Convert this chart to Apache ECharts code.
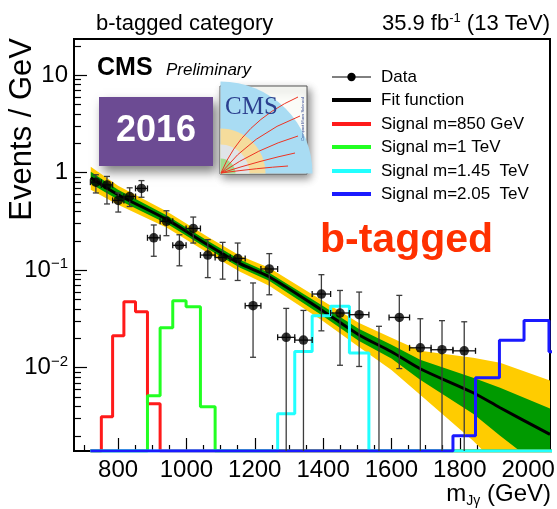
<!DOCTYPE html>
<html>
<head>
<meta charset="utf-8">
<script src="https://cdn.jsdelivr.net/npm/echarts@6/dist/echarts.min.js"></script>
<style>
  html, body { margin: 0; padding: 0; background: #fff; }
  #chart { width: 557px; height: 509px; }
</style>
</head>
<body>
<div id="chart"></div>
<script>
// ---- binning (GeV), shared by the data and the signal templates ----
const binEdges = [719, 751, 784, 817, 851, 886, 923, 960, 999, 1041, 1084, 1128, 1172, 1218,
  1267, 1317, 1368, 1422, 1477, 1534, 1593, 1653, 1716, 1780, 1846, 1916, 1988, 2061, 2136];

// ---- observed data, events / GeV (0 = empty bin) ----
const dataValues = [0.80, 0.75, 0.52, 0.57, 0.69, 0.215, 0.317, 0.18, 0.268, 0.143, 0.135, 0.132,
  0.0433, 0.103, 0.0205, 0.0192, 0.057, 0.0364, 0.035, 0, 0.0328, 0.016, 0.0153, 0.0149];
// lower / upper ends of the Poisson error bars (0 = reaches the bottom of the frame)
const dataLow = [0.62, 0.478, 0.395, 0.45, 0.56, 0.139, 0.226, 0.111, 0.19, 0.084, 0.081, 0.0785,
  0.0128, 0.056, 0, 0, 0.0239, 0.0106, 0.0103, 0, 0.0098, 0, 0, 0];
const dataHigh = [0.953, 0.916, 0.62, 0.70, 0.83, 0.291, 0.407, 0.231, 0.351, 0.206, 0.193, 0.19,
  0.074, 0.148, 0.0406, 0.0387, 0.090, 0.062, 0.0597, 0.0266, 0.0552, 0.0318, 0.0304, 0.0296];

// ---- background fit with 1 and 2 sigma uncertainty bands ----
const fitMass  = [720, 800, 943, 1062, 1157, 1242, 1394, 1504, 1600, 1684, 1839, 1918, 2064];
const fitValue = [0.889, 0.595, 0.330, 0.1826, 0.1167, 0.0858, 0.0394, 0.0218, 0.0146, 0.00977, 0.00554, 0.00389, 0.00207];
const fit1SigUp = [1.024, 0.670, 0.363, 0.2007, 0.1283, 0.0943, 0.0443, 0.0251, 0.0172, 0.01208, 0.00789, 0.00624, 0.00382];
const fit1SigDn = [0.772, 0.529, 0.300, 0.1661, 0.1062, 0.0781, 0.0350, 0.0189, 0.0124, 0.00754, 0.00337, 0.00201, 0.000805];
const fit2SigUp = [1.152, 0.736, 0.399, 0.2205, 0.1410, 0.1061, 0.0499, 0.0289, 0.0203, 0.01494, 0.01266, 0.01125, 0.00741];
const fit2SigDn = [0.670, 0.470, 0.273, 0.1512, 0.0966, 0.0694, 0.0311, 0.0164, 0.0095, 0.00529, 0.00178, 0.000944, 0.000312];

// ---- signal templates, one value per bin (0 = empty) ----
const signal850 = [0, 0.00314, 0.0213, 0.0475, 0.0375, 0.00428, 0, 0, 0, 0, 0, 0, 0, 0,
  0, 0, 0, 0, 0, 0, 0, 0, 0, 0, 0, 0, 0, 0];
const signal1000 = [0, 0, 0, 0, 0, 0.00516, 0.0257, 0.0486, 0.0423, 0.00398, 0, 0, 0, 0,
  0, 0, 0, 0, 0, 0, 0, 0, 0, 0, 0, 0, 0, 0];
const signal1450 = [0, 0, 0, 0, 0, 0, 0, 0, 0, 0, 0, 0, 0, 0,
  0.00337, 0.0147, 0.0341, 0.0426, 0.0142, 0, 0, 0, 0, 0, 0, 0, 0, 0];
const signal2050 = [0, 0, 0, 0, 0, 0, 0, 0, 0, 0, 0, 0, 0, 0,
  0, 0, 0, 0, 0, 0, 0, 0, 0, 0.00201, 0.00789, 0.0191, 0.0305, 0.0146];

// ---- axis ticks ----
const xTickValues = [800, 1000, 1200, 1400, 1600, 1800, 2000];
const xMinorTickValues = [700, 750, 850, 900, 950, 1050, 1100, 1150, 1250, 1300, 1350, 1450, 1500,
  1550, 1650, 1700, 1750, 1850, 1900, 1950, 2050];
const yTickValues = [0.01, 0.1, 1, 10];
const yMinorTickValues = [0.002, 0.003, 0.004, 0.005, 0.006, 0.007, 0.008, 0.009,
  0.02, 0.03, 0.04, 0.05, 0.06, 0.07, 0.08, 0.09,
  0.2, 0.3, 0.4, 0.5, 0.6, 0.7, 0.8, 0.9,
  2, 3, 4, 5, 6, 7, 8, 9, 20];

const X_MIN = 671, X_MAX = 2064;
const Y_MIN = 0.0014, Y_MAX = 23.5;
const FONT = "'Liberation Sans', Arial, Helvetica, sans-serif";

const binCenters = binEdges.slice(0, -1).map((e, i) => (e + binEdges[i + 1]) / 2);

// band polygon: upper edge left to right, lower edge back
function bandSeries(upper, lower, color) {
  return {
    type: 'custom', coordinateSystem: 'cartesian2d', clip: true, silent: true, z: 1,
    data: [[fitMass[0], fitValue[0]]],
    renderItem: function (params, api) {
      const pts = [];
      for (let i = 0; i < fitMass.length; i++) pts.push(api.coord([fitMass[i], upper[i]]));
      for (let i = fitMass.length - 1; i >= 0; i--) pts.push(api.coord([fitMass[i], lower[i]]));
      return { type: 'polygon', shape: { points: pts }, style: { fill: color } };
    }
  };
}

// step histogram outline, empty bins sit on the bottom of the frame
function signalSeries(name, values, color) {
  const pts = values.map((v, i) => [binEdges[i], v > 0 ? v : Y_MIN]);
  pts.push([binEdges[values.length], Y_MIN]);
  return {
    name: name, type: 'line', step: 'end', data: pts, symbol: 'none', silent: true, z: 3,
    lineStyle: { color: color, width: 3 }, itemStyle: { color: color }
  };
}

function renderErrorBar(params, api) {
  const i = api.value(2);
  const xc = binCenters[i];
  const v = dataValues[i], lo = dataLow[i], hi = dataHigh[i];
  const style = { stroke: '#3c3c3c', lineWidth: 1.3 };
  const cap = 3;
  const pHi = api.coord([xc, hi]);
  const pLo = api.coord([xc, lo > 0 ? lo : Y_MIN]);
  const children = [
    { type: 'line', shape: { x1: pHi[0], y1: pHi[1], x2: pLo[0], y2: pLo[1] + (lo > 0 ? 0 : 2) }, style: style },
    { type: 'line', shape: { x1: pHi[0] - cap, y1: pHi[1], x2: pHi[0] + cap, y2: pHi[1] }, style: style }
  ];
  if (lo > 0) {
    children.push({ type: 'line', shape: { x1: pLo[0] - cap, y1: pLo[1], x2: pLo[0] + cap, y2: pLo[1] }, style: style });
  }
  if (v > 0) {
    const pl = api.coord([binEdges[i], v]);
    const pr = api.coord([binEdges[i + 1], v]);
    const hs = { stroke: '#111', lineWidth: 1.3 };
    children.push({ type: 'line', shape: { x1: pl[0], y1: pl[1], x2: pr[0], y2: pr[1] }, style: hs });
    children.push({ type: 'line', shape: { x1: pl[0], y1: pl[1] - cap, x2: pl[0], y2: pl[1] + cap }, style: hs });
    children.push({ type: 'line', shape: { x1: pr[0], y1: pr[1] - cap, x2: pr[0], y2: pr[1] + cap }, style: hs });
  }
  return { type: 'group', children: children };
}

const yLabelFormatter = function (v) {
  const e = Math.round(Math.log10(v));
  if (e >= 0) return '{b|' + Math.pow(10, e) + '}';
  return '{b|10}{s|\u2212' + (-e) + '}';
};

// legend rows drawn as graphics
const legendRows = [
  { text: 'Data', kind: 'data' },
  { text: 'Fit function', color: '#000000' },
  { text: 'Signal m=850 GeV', color: '#ff1a1a' },
  { text: 'Signal m=1 TeV', color: '#22ff22' },
  { text: 'Signal m=1.45  TeV', color: '#22ffff' },
  { text: 'Signal m=2.05  TeV', color: '#1a1aff' }
];
const legendY = [77, 100, 124, 147, 171, 194];
const legendGraphics = [];
legendRows.forEach((row, k) => {
  const y = legendY[k];
  if (row.kind === 'data') {
    legendGraphics.push({ type: 'line', shape: { x1: 332, y1: y, x2: 371, y2: y }, style: { stroke: '#000', lineWidth: 1 } });
    legendGraphics.push({ type: 'circle', shape: { cx: 351.5, cy: y, r: 4.2 }, style: { fill: '#000' } });
  } else {
    legendGraphics.push({ type: 'line', shape: { x1: 332, y1: y, x2: 371, y2: y }, style: { stroke: row.color, lineWidth: 4 } });
  }
  legendGraphics.push({ type: 'text', x: 381, y: y, style: { text: row.text, font: '17px ' + FONT, fill: '#000', verticalAlign: 'middle', align: 'left' } });
});

const option = {
  animation: false,
  backgroundColor: '#ffffff',
  grid: {
    left: 74, right: 7, top: 39, bottom: 58, show: true,
    borderColor: '#000', borderWidth: 2, backgroundColor: 'transparent',
    containLabel: false, outerBoundsMode: 'none'
  },
  xAxis: [
    {
      type: 'value', min: X_MIN, max: X_MAX, position: 'bottom',
      axisLine: { show: true, lineStyle: { color: '#000', width: 2 } },
      axisTick: { show: true, inside: true, length: 13, customValues: xTickValues, lineStyle: { color: '#000', width: 1.2 } },
      axisLabel: { show: true, customValues: xTickValues, margin: 7, fontSize: 24, color: '#000', fontFamily: FONT, formatter: v => String(v) },
      splitLine: { show: false }
    },
    {
      type: 'value', min: X_MIN, max: X_MAX, position: 'bottom', offset: 0,
      axisLine: { show: false },
      axisTick: { show: true, inside: true, length: 6, customValues: xMinorTickValues, lineStyle: { color: '#000', width: 1.2 } },
      axisLabel: { show: false },
      splitLine: { show: false }
    }
  ],
  yAxis: [
    {
      type: 'log', logBase: 10, min: Y_MIN, max: Y_MAX, position: 'left',
      axisLine: { show: true, lineStyle: { color: '#000', width: 2 } },
      axisTick: { show: true, inside: true, length: 13, customValues: yTickValues, lineStyle: { color: '#000', width: 1.2 } },
      axisLabel: {
        show: true, customValues: yTickValues, margin: 6, formatter: yLabelFormatter,
        rich: {
          b: { fontSize: 24, fontFamily: FONT, color: '#000' },
          s: { fontSize: 15, fontFamily: FONT, color: '#000', padding: [0, 0, 12, 0] }
        }
      },
      splitLine: { show: false }
    },
    {
      type: 'log', logBase: 10, min: Y_MIN, max: Y_MAX, position: 'left', offset: 0,
      axisLine: { show: false },
      axisTick: { show: true, inside: true, length: 7, customValues: yMinorTickValues, lineStyle: { color: '#000', width: 1.2 } },
      axisLabel: { show: false },
      splitLine: { show: false }
    }
  ],
  series: [
    bandSeries(fit2SigUp, fit2SigDn, '#ffcc00'),
    bandSeries(fit1SigUp, fit1SigDn, '#009a00'),
    {
      name: 'Fit function', type: 'line', data: fitMass.map((m, i) => [m, fitValue[i]]),
      smooth: 0.3, symbol: 'none', silent: true, z: 2,
      lineStyle: { color: '#000', width: 3 }
    },
    signalSeries('Signal m=850 GeV', signal850, '#ff1a1a'),
    signalSeries('Signal m=1 TeV', signal1000, '#22ff22'),
    signalSeries('Signal m=1.45  TeV', signal1450, '#22ffff'),
    signalSeries('Signal m=2.05  TeV', signal2050, '#1a1aff'),
    {
      type: 'custom', coordinateSystem: 'cartesian2d', clip: true, silent: true, z: 4,
      data: dataValues.map((v, i) => [binCenters[i], v > 0 ? v : Y_MIN, i]),
      renderItem: renderErrorBar
    },
    {
      name: 'Data', type: 'scatter', z: 5, silent: true,
      data: dataValues.map((v, i) => [binCenters[i], v]).filter(p => p[1] > 0),
      symbol: 'circle', symbolSize: 9.5, itemStyle: { color: '#000' }
    }
  ],
  graphic: [
    // header texts
    { type: 'text', x: 96, y: 24, style: { text: 'b-tagged category', font: '22px ' + FONT, fill: '#000', verticalAlign: 'middle' } },
    {
      type: 'text', x: 550, y: 24,
      style: {
        text: '{n|35.9 fb}{s|-1}{n| (13 TeV)}', align: 'right', verticalAlign: 'middle',
        rich: {
          n: { font: '22px ' + FONT, fill: '#000' },
          s: { font: '13px ' + FONT, fill: '#000', padding: [0, 0, 11, 0] }
        }
      }
    },
    // axis titles
    { type: 'text', x: 22, y: 38, rotation: Math.PI / 2, style: { text: 'Events / GeV', font: '31px ' + FONT, fill: '#000', align: 'right', verticalAlign: 'middle' } },
    {
      type: 'text', x: 551, y: 494,
      style: {
        text: '{m|m}{sub|J\u03b3}{m| (GeV)}', align: 'right', verticalAlign: 'middle',
        rich: {
          m: { font: '24px ' + FONT, fill: '#000' },
          sub: { font: '14px ' + FONT, fill: '#000', padding: [14, 0, 0, 0] }
        }
      }
    },
    // CMS label
    { type: 'text', x: 97, y: 68, style: { text: 'CMS', font: 'bold 25px ' + FONT, fill: '#000', verticalAlign: 'middle' } },
    { type: 'text', x: 166, y: 70, style: { text: 'Preliminary', font: 'italic 17px ' + FONT, fill: '#000', verticalAlign: 'middle' } },
    // 2016 badge
    {
      type: 'rect', shape: { x: 99, y: 97, width: 114, height: 69 },
      style: { fill: '#6c4b93', shadowBlur: 10, shadowOffsetX: 4, shadowOffsetY: 6, shadowColor: 'rgba(0,0,0,0.5)' }
    },
    {
      type: 'text', x: 156, y: 131,
      style: { text: '2016', font: 'bold 36px ' + FONT, fill: '#ffffff', align: 'center', verticalAlign: 'middle',
        shadowBlur: 3, shadowOffsetX: 1, shadowOffsetY: 1, shadowColor: 'rgba(0,0,0,0.45)' }
    },
    // experiment logo
    {
      type: 'group',
      children: [
        { type: 'rect', shape: { x: 220, y: 86, width: 87, height: 88 },
          style: { fill: '#fbfcf8', stroke: '#555', lineWidth: 1, shadowBlur: 8, shadowOffsetX: 3, shadowOffsetY: 4, shadowColor: 'rgba(0,0,0,0.45)' } },
        { type: 'sector', shape: { cx: 220.5, cy: 173.5, r: 92, r0: 0, startAngle: -Math.PI / 2, endAngle: 0, clockwise: true }, style: { fill: '#a9dcf3' } },
        { type: 'sector', shape: { cx: 220.5, cy: 173.5, r: 45, r0: 0, startAngle: -Math.PI / 2, endAngle: 0, clockwise: true }, style: { fill: '#f5dc9c' } },
        { type: 'sector', shape: { cx: 220.5, cy: 173.5, r: 29, r0: 0, startAngle: -Math.PI / 2, endAngle: 0, clockwise: true }, style: { fill: '#e0e4e8' } },
        { type: 'sector', shape: { cx: 220.5, cy: 173.5, r: 15, r0: 0, startAngle: -Math.PI / 2, endAngle: 0, clockwise: true }, style: { fill: '#a3da8e' } },
        { type: 'bezierCurve', shape: { x1: 221, y1: 173, cpx1: 242, cpy1: 122, x2: 298, y2: 97 }, style: { stroke: '#ee3322', lineWidth: 1, fill: null } },
        { type: 'bezierCurve', shape: { x1: 221, y1: 173, cpx1: 252, cpy1: 134, x2: 300, y2: 116 }, style: { stroke: '#ee3322', lineWidth: 1, fill: null } },
        { type: 'bezierCurve', shape: { x1: 221, y1: 173, cpx1: 258, cpy1: 148, x2: 298, y2: 136 }, style: { stroke: '#ee3322', lineWidth: 1, fill: null } },
        { type: 'bezierCurve', shape: { x1: 221, y1: 173, cpx1: 262, cpy1: 160, x2: 295, y2: 153 }, style: { stroke: '#ee3322', lineWidth: 1, fill: null } },
        { type: 'bezierCurve', shape: { x1: 221, y1: 173, cpx1: 258, cpy1: 168, x2: 288, y2: 166 }, style: { stroke: '#ee3322', lineWidth: 1, fill: null } },
        { type: 'text', x: 225, y: 107, style: { text: 'CMS', font: "25px 'Liberation Serif', 'Times New Roman', serif", fill: '#2b3f8e', verticalAlign: 'middle' } },
        { type: 'text', x: 303, y: 97, rotation: Math.PI / 2, style: { text: 'Compact Muon Solenoid', font: '4px ' + FONT, fill: '#2b3f8e', align: 'right', verticalAlign: 'middle' } }
      ]
    },
    // category tag
    { type: 'text', x: 320, y: 241, style: { text: 'b-tagged', font: 'bold 41px ' + FONT, fill: '#ff3000', verticalAlign: 'middle' } },
    // legend
    { type: 'group', children: legendGraphics }
  ]
};

const chart = echarts.init(document.getElementById('chart'), null, { renderer: 'canvas' });
chart.setOption(option);
</script>
</body>
</html>
